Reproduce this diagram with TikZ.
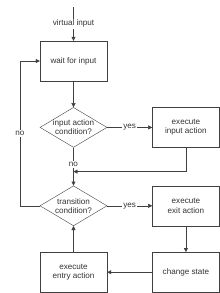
\documentclass[tikz,border=0pt]{standalone}
\usepackage{fontspec}
\setmainfont{Liberation Sans}
\usetikzlibrary{positioning,shapes.geometric,arrows.meta}

\begin{document}
\begin{tikzpicture}[x=1pt, y=-1pt,
    font=\fontsize{8.1}{9.3}\selectfont,
    box/.style={draw=black!75, text=black!80, align=center, minimum width=67pt, minimum height=40pt, inner sep=1pt},
    dec/.style={draw=black!75, text=black!80, diamond, aspect=1.675, inner sep=0pt, align=center, minimum width=67pt, minimum height=40pt},
    lbl/.style={fill=white, text=black!80, inner sep=1pt},
    flow/.style={draw=black!75, -{Triangle[length=4pt,width=4pt]}}
]
    \useasboundingbox (0,0) rectangle (220,293);

    \node[box] (wait) at (73.5,61) {wait for input};
    \coordinate (vtop) at (73.5,7);

    \node[dec, below=26pt of wait] (inpcond) {input action\\condition?};
    \node[box, right=45pt of inpcond] (inpact) {execute\\input action};

    \node[dec, below=38pt of inpcond] (trcond) {transition\\condition?};
    \node[box, right=45pt of trcond] (exitact) {execute\\exit action};
    \node[box, below=26pt of exitact] (chstate) {change state};
    \node[box, below=26pt of trcond] (entryact) {execute\\entry action};

    \coordinate[below=24pt of inpcond.south] (merge);

    % main line
    \draw[flow] (vtop) -- node[lbl] {virtual input} (wait);
    \draw[flow] (wait) -- (inpcond);
    \draw[flow] (inpcond) -- node[lbl] {yes} (inpact);
    \draw[flow] (inpcond) -- node[lbl, pos=0.45] {no} (trcond);
    \draw[flow] (inpact.south) |- (merge);

    % state change
    \draw[flow] (trcond) -- node[lbl] {yes} (exitact);
    \draw[flow] (exitact) -- (chstate);
    \draw[flow] (chstate) -- (entryact);
    \draw[flow] (entryact) -- (trcond);
    \draw[flow] (trcond.west) -- ++(-20,0) |- node[lbl, pos=0.25] {no} (wait.west);
\end{tikzpicture}
\end{document}
